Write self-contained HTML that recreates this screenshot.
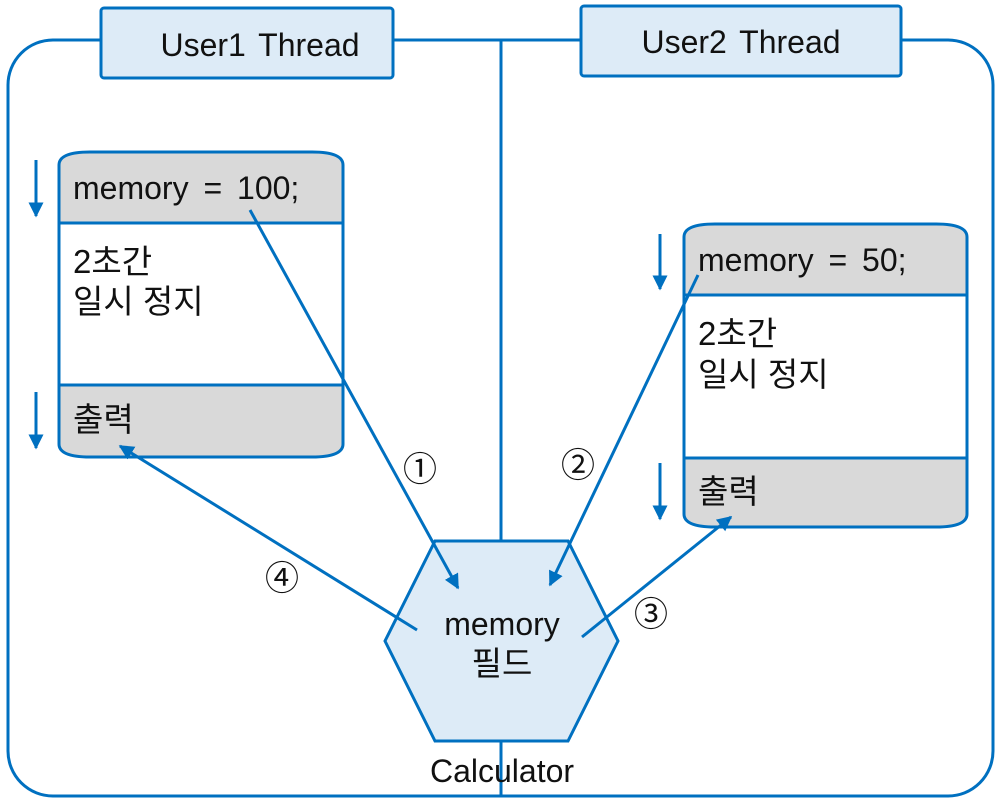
<!DOCTYPE html>
<html><head><meta charset="utf-8"><style>
body{margin:0;background:#fff}
svg text{font-family:"Liberation Sans","Noto Sans CJK KR",sans-serif;fill:#111}
</style></head><body>
<svg width="1000" height="799" viewBox="0 0 1000 799" xmlns="http://www.w3.org/2000/svg">
<defs><marker id="a" viewBox="0 0 10 10" refX="9" refY="5" markerWidth="5" markerHeight="5" orient="auto-start-reverse"><path d="M0,0L10,5L0,10z" fill="#0070C0"/></marker></defs>
<g stroke="#0070C0" stroke-width="3" fill="none">
<rect x="8" y="40" width="985" height="756" rx="45"/>
<line x1="501" y1="40" x2="501" y2="541"/>
<line x1="501" y1="741" x2="501" y2="796"/>
</g>
<rect x="101" y="8" width="292" height="70" rx="3" fill="#DDEBF7" stroke="#0070C0" stroke-width="3"/>
<rect x="581" y="6" width="320" height="70" rx="3" fill="#DDEBF7" stroke="#0070C0" stroke-width="3"/>
<text x="260" y="56" font-size="32" text-anchor="middle" word-spacing="4">User1 Thread</text>
<text x="741" y="53" font-size="32" text-anchor="middle" word-spacing="4">User2 Thread</text>
<g stroke="#0070C0" stroke-width="3">
<path d="M59,223 V165 Q59,152 90,152 H312 Q343,152 343,165 V223 Z" fill="#D9D9D9"/>
<rect x="59" y="223" width="284" height="162" fill="#fff"/>
<path d="M59,385 H343 V444 Q343,457 312,457 H90 Q59,457 59,444 Z" fill="#D9D9D9"/>
<path d="M684,295 V237 Q684,224 715,224 H936 Q967,224 967,237 V295 Z" fill="#D9D9D9"/>
<rect x="684" y="295" width="283" height="163" fill="#fff"/>
<path d="M684,458 H967 V514 Q967,527 936,527 H715 Q684,527 684,514 Z" fill="#D9D9D9"/>
<polygon points="435,541 568,541 618,641 568,741 435,741 385,641" fill="#DDEBF7"/>
</g>
<text x="73" y="199" font-size="32" word-spacing="6">memory = 100;</text>
<text x="73" y="273" font-size="33">2초간</text>
<text x="73" y="313" font-size="33">일시 정지</text>
<text x="73" y="431" font-size="33">출력</text>
<text x="698" y="271" font-size="32" word-spacing="6">memory = 50;</text>
<text x="698" y="345" font-size="33">2초간</text>
<text x="698" y="386" font-size="33">일시 정지</text>
<text x="698" y="503" font-size="33">출력</text>
<text x="502" y="635" font-size="32" text-anchor="middle">memory</text>
<text x="502" y="675" font-size="33" text-anchor="middle">필드</text>
<text x="502" y="782" font-size="32" text-anchor="middle">Calculator</text>
<g font-size="34" text-anchor="middle">
<text x="420" y="481">①</text><text x="578" y="477">②</text><text x="651" y="626">③</text><text x="282" y="590">④</text>
</g>
<g stroke="#0070C0" stroke-width="3" marker-end="url(#a)">
<line x1="250" y1="210" x2="458" y2="588"/>
<line x1="698" y1="275" x2="550" y2="585"/>
<line x1="582" y1="637" x2="731" y2="517"/>
<line x1="417" y1="630" x2="120" y2="446"/>
<line x1="36" y1="160" x2="36" y2="216"/>
<line x1="36" y1="392" x2="36" y2="448"/>
<line x1="660" y1="234" x2="660" y2="289"/>
<line x1="660" y1="463" x2="660" y2="519"/>
</g>
</svg>
</body></html>
